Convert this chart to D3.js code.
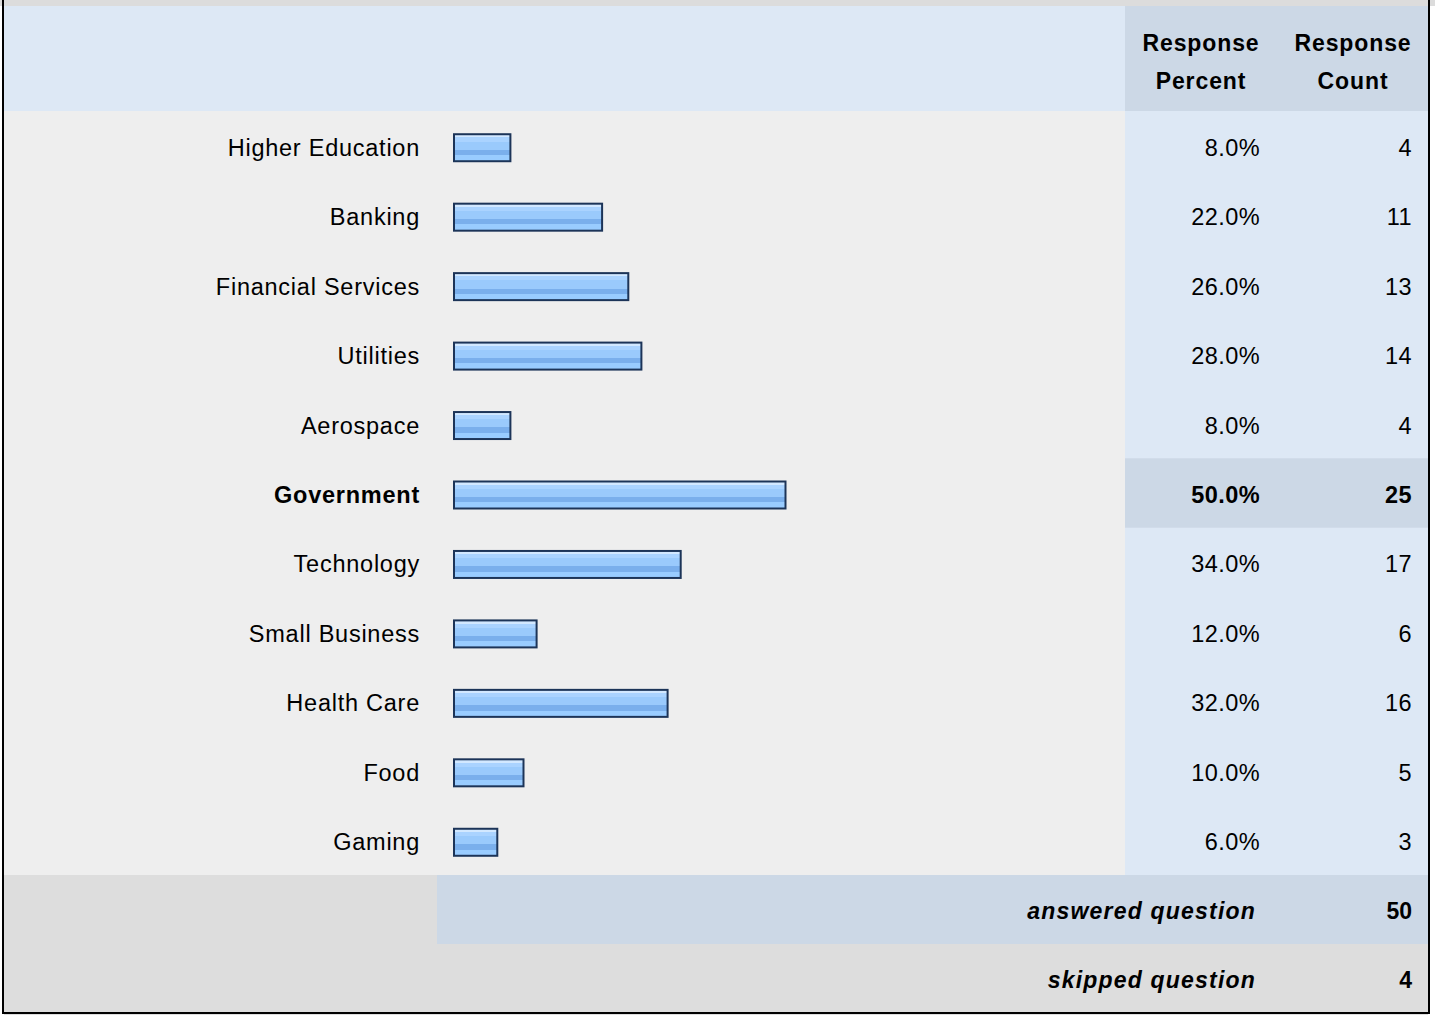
<!DOCTYPE html>
<html>
<head>
<meta charset="utf-8">
<script src="https://cdn.jsdelivr.net/npm/d3@7"></script>
<style>
  body { margin: 0; background: #fff; }
  text { font-family: "Liberation Sans", Arial, sans-serif; fill: #000; }
</style>
</head>
<body>
<div class="chart"></div>
<script>
var categories = ["Higher Education", "Banking", "Financial Services", "Utilities", "Aerospace",
  "Government", "Technology", "Small Business", "Health Care", "Food", "Gaming"];
var percents = [8.0, 22.0, 26.0, 28.0, 8.0, 50.0, 34.0, 12.0, 32.0, 10.0, 6.0];
var counts = [4, 11, 13, 14, 4, 25, 17, 6, 16, 5, 3];
var headers = [["Response", "Percent"], ["Response", "Count"]];
var footerLabels = ["answered question", "skipped question"];
var footerValues = [50, 4];

var W = 1435, H = 1015;
var frameLeft = 4, frameRight = 1428;
var colX = 1125;          // start of the numbers columns
var bodyTop = 111, bodyBottom = 875;

var svg = d3.select('.chart')
  .append('svg')
  .attr('width', W)
  .attr('height', H);

var defs = svg.append('defs');
var grad = defs.append('linearGradient')
  .attr('id', 'barGrad')
  .attr('x1', 0).attr('y1', 0).attr('x2', 0).attr('y2', 1);
[[0, '#d2e8ff'], [0.12, '#d2e8ff'], [0.12, '#aad3ff'], [0.27, '#aad3ff'], [0.27, '#9acafc'],
 [0.57, '#9acafc'], [0.57, '#7aafec'], [0.77, '#7aafec'], [0.77, '#99ccff'], [1, '#99ccff']]
  .forEach(function(s) {
    grad.append('stop').attr('offset', s[0]).attr('stop-color', s[1]);
  });

// backgrounds
svg.append('rect').attr('x', 0).attr('y', 0).attr('width', W).attr('height', 6).attr('fill', '#dcdcdc');
svg.append('rect').attr('x', frameLeft).attr('y', 6).attr('width', colX - frameLeft).attr('height', bodyTop - 6).attr('fill', '#dde8f5');
svg.append('rect').attr('x', colX).attr('y', 6).attr('width', frameRight - colX).attr('height', bodyTop - 6).attr('fill', '#ccd8e6');
svg.append('rect').attr('x', frameLeft).attr('y', bodyTop).attr('width', colX - frameLeft).attr('height', bodyBottom - bodyTop).attr('fill', '#eeeeee');
svg.append('rect').attr('x', colX).attr('y', bodyTop).attr('width', frameRight - colX).attr('height', bodyBottom - bodyTop).attr('fill', '#dde8f5');

var y = d3.scaleBand()
  .domain(categories)
  .range([bodyTop, bodyBottom]);

var x = d3.scaleLinear()
  .domain([0, 100])
  .range([0, 655]);

var maxCount = d3.max(counts);
var isMax = function(d, i) { return counts[i] === maxCount; };

var rows = svg.selectAll('g.row')
  .data(categories)
  .enter()
  .append('g')
  .attr('class', 'row')
  .attr('transform', function(d) { return `translate(0, ${y(d)})`; });

rows.filter(isMax)
  .append('rect')
  .attr('x', colX)
  .attr('y', 0)
  .attr('width', frameRight - colX)
  .attr('height', y.bandwidth())
  .attr('fill', '#ccd8e6');

var mid = y.bandwidth() / 2;

function cellText(sel, xPos, fn, spacing) {
  sel.append('text')
    .attr('x', xPos)
    .attr('y', mid + 10)
    .attr('text-anchor', 'end')
    .style('font-size', '23.5px')
    .style('letter-spacing', spacing)
    .style('font-weight', function(d, i) { return isMax(d, i) ? 'bold' : 'normal'; })
    .text(fn);
}

cellText(rows, 420, function(d) { return d; }, '0.75px');

rows.append('rect')
  .attr('x', 454)
  .attr('y', mid - 11.5)
  .attr('width', function(d, i) { return x(percents[i]) + 4; })
  .attr('height', 27)
  .attr('fill', 'url(#barGrad)')
  .attr('stroke', '#1c3458')
  .attr('stroke-width', 2);

cellText(rows, 1260, function(d, i) { return percents[i].toFixed(1) + '%'; }, '0.4px');
cellText(rows, 1412, function(d, i) { return counts[i]; }, '0.4px');

// header
headers.forEach(function(h, i) {
  var cx = [1201, 1353][i];
  h.forEach(function(line, j) {
    svg.append('text')
      .attr('x', cx)
      .attr('y', 51 + j * 38)
      .attr('text-anchor', 'middle')
      .style('font-size', '23px')
      .style('font-weight', 'bold')
      .style('letter-spacing', '0.9px')
      .text(line);
  });
});

// footer
var rowH = 69;
svg.append('rect').attr('x', frameLeft).attr('y', bodyBottom).attr('width', frameRight - frameLeft).attr('height', H - bodyBottom).attr('fill', '#dddddd');
svg.append('rect').attr('x', 437).attr('y', bodyBottom).attr('width', frameRight - 437).attr('height', rowH).attr('fill', '#ccd8e6');

footerLabels.forEach(function(lbl, i) {
  var cy = bodyBottom + rowH * i + rowH / 2;
  svg.append('text')
    .attr('x', 1256)
    .attr('y', cy + 9)
    .attr('text-anchor', 'end')
    .style('font-size', '23px')
    .style('font-weight', 'bold')
    .style('font-style', 'italic')
    .style('letter-spacing', '1.2px')
    .text(lbl);
  svg.append('text')
    .attr('x', 1412)
    .attr('y', cy + 9)
    .attr('text-anchor', 'end')
    .style('font-size', '23px')
    .style('font-weight', 'bold')
    .text(footerValues[i]);
});

// outer frame
svg.append('line').attr('x1', 3).attr('x2', 3).attr('y1', 0).attr('y2', 1014).attr('stroke', '#000').attr('stroke-width', 2);
svg.append('line').attr('x1', 1429).attr('x2', 1429).attr('y1', 0).attr('y2', 1014).attr('stroke', '#000').attr('stroke-width', 2);
svg.append('line').attr('x1', 2).attr('x2', 1430).attr('y1', 1013).attr('y2', 1013).attr('stroke', '#000').attr('stroke-width', 2);
</script>
</body>
</html>
